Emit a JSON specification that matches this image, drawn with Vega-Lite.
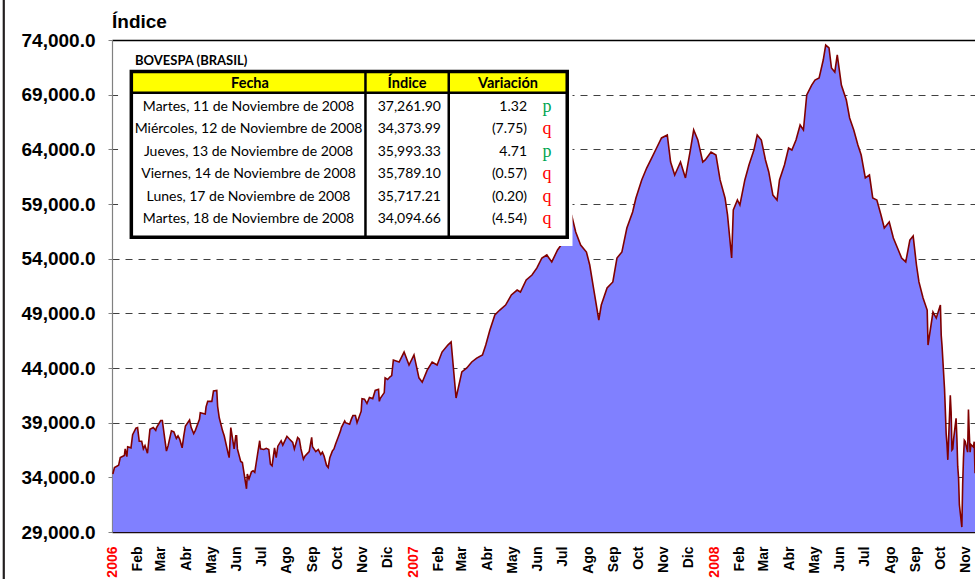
{
  "$schema": "https://vega.github.io/schema/vega-lite/v6.json",
  "width": 863,
  "height": 492,
  "autosize": {"type": "none"},
  "padding": {"left": 112, "top": 40, "right": 0, "bottom": 47},
  "background": "#ffffff",
  "config": {"view": {"stroke": null}},
  "layer": [
    {
      "data": {"values": [
        {"date":"2006-01-02","indice":34300},{"date":"2006-01-04","indice":34900},{"date":"2006-01-09","indice":35100},{"date":"2006-01-11","indice":35800},{"date":"2006-01-16","indice":36000},{"date":"2006-01-17","indice":36600},{"date":"2006-01-19","indice":35900},{"date":"2006-01-20","indice":36800},{"date":"2006-01-24","indice":36700},{"date":"2006-01-26","indice":37900},{"date":"2006-01-30","indice":38500},
        {"date":"2006-02-01","indice":38550},{"date":"2006-02-03","indice":37300},{"date":"2006-02-06","indice":37300},{"date":"2006-02-08","indice":36600},{"date":"2006-02-10","indice":36900},{"date":"2006-02-13","indice":36200},{"date":"2006-02-16","indice":38400},{"date":"2006-02-20","indice":38550},{"date":"2006-02-23","indice":38300},{"date":"2006-02-24","indice":38550},
        {"date":"2006-03-01","indice":39200},{"date":"2006-03-03","indice":39200},{"date":"2006-03-06","indice":37500},{"date":"2006-03-08","indice":36400},{"date":"2006-03-10","indice":36900},{"date":"2006-03-14","indice":38250},{"date":"2006-03-17","indice":38150},{"date":"2006-03-20","indice":37550},{"date":"2006-03-22","indice":37800},{"date":"2006-03-24","indice":37500},{"date":"2006-03-27","indice":36700},{"date":"2006-03-29","indice":37800},{"date":"2006-03-31","indice":38700},
        {"date":"2006-04-05","indice":39250},{"date":"2006-04-07","indice":38550},{"date":"2006-04-10","indice":38000},{"date":"2006-04-12","indice":38300},{"date":"2006-04-17","indice":39300},{"date":"2006-04-18","indice":39900},{"date":"2006-04-24","indice":39800},{"date":"2006-04-25","indice":40450},{"date":"2006-04-27","indice":40950},
        {"date":"2006-05-02","indice":40950},{"date":"2006-05-04","indice":41900},{"date":"2006-05-08","indice":41950},{"date":"2006-05-09","indice":40500},{"date":"2006-05-11","indice":39450},{"date":"2006-05-15","indice":38250},{"date":"2006-05-17","indice":37800},{"date":"2006-05-22","indice":36100},{"date":"2006-05-23","indice":35800},{"date":"2006-05-25","indice":38550},{"date":"2006-05-29","indice":36600},{"date":"2006-05-31","indice":37800},
        {"date":"2006-06-01","indice":37800},{"date":"2006-06-02","indice":36600},{"date":"2006-06-06","indice":35450},{"date":"2006-06-08","indice":35350},{"date":"2006-06-13","indice":32950},{"date":"2006-06-14","indice":34300},{"date":"2006-06-16","indice":33850},{"date":"2006-06-19","indice":34500},{"date":"2006-06-21","indice":34600},{"date":"2006-06-23","indice":34450},{"date":"2006-06-27","indice":36400},{"date":"2006-06-29","indice":37350},{"date":"2006-06-30","indice":36600},
        {"date":"2006-07-04","indice":36550},{"date":"2006-07-07","indice":36650},{"date":"2006-07-10","indice":36550},{"date":"2006-07-12","indice":35200},{"date":"2006-07-14","indice":35050},{"date":"2006-07-17","indice":36700},{"date":"2006-07-19","indice":35800},{"date":"2006-07-21","indice":36850},{"date":"2006-07-25","indice":37350},{"date":"2006-07-27","indice":36950},
        {"date":"2006-08-01","indice":37750},{"date":"2006-08-04","indice":37500},{"date":"2006-08-08","indice":37200},{"date":"2006-08-10","indice":36600},{"date":"2006-08-14","indice":37650},{"date":"2006-08-16","indice":37500},{"date":"2006-08-18","indice":36600},{"date":"2006-08-21","indice":35650},{"date":"2006-08-23","indice":35950},{"date":"2006-08-28","indice":36350},{"date":"2006-08-31","indice":37650},
        {"date":"2006-09-01","indice":36800},{"date":"2006-09-05","indice":36350},{"date":"2006-09-08","indice":36550},{"date":"2006-09-11","indice":36100},{"date":"2006-09-13","indice":36300},{"date":"2006-09-15","indice":35950},{"date":"2006-09-18","indice":35100},{"date":"2006-09-20","indice":34900},{"date":"2006-09-22","indice":35800},{"date":"2006-09-25","indice":36400},{"date":"2006-09-27","indice":36600},{"date":"2006-09-29","indice":37050},
        {"date":"2006-10-03","indice":37850},{"date":"2006-10-05","indice":38250},{"date":"2006-10-06","indice":38550},{"date":"2006-10-10","indice":39150},{"date":"2006-10-11","indice":39000},{"date":"2006-10-16","indice":38850},{"date":"2006-10-18","indice":39300},{"date":"2006-10-20","indice":39650},{"date":"2006-10-23","indice":39650},{"date":"2006-10-25","indice":39000},{"date":"2006-10-30","indice":40050},{"date":"2006-10-31","indice":41200},
        {"date":"2006-11-03","indice":41150},{"date":"2006-11-06","indice":40750},{"date":"2006-11-09","indice":41300},{"date":"2006-11-13","indice":41200},{"date":"2006-11-16","indice":41950},{"date":"2006-11-20","indice":42050},{"date":"2006-11-21","indice":40950},{"date":"2006-11-22","indice":41200},{"date":"2006-11-27","indice":41750},{"date":"2006-11-28","indice":43100},
        {"date":"2006-12-01","indice":42950},{"date":"2006-12-04","indice":43200},{"date":"2006-12-06","indice":43300},{"date":"2006-12-08","indice":44730},{"date":"2006-12-15","indice":44550},{"date":"2006-12-21","indice":45460},{"date":"2006-12-27","indice":44270},
        {"date":"2007-01-02","indice":45200},{"date":"2007-01-08","indice":43100},{"date":"2007-01-12","indice":42700},{"date":"2007-01-18","indice":43800},{"date":"2007-01-24","indice":44550},{"date":"2007-01-30","indice":44270},
        {"date":"2007-02-05","indice":45460},{"date":"2007-02-12","indice":46100},{"date":"2007-02-16","indice":46380},{"date":"2007-02-22","indice":41260},
        {"date":"2007-03-01","indice":43640},{"date":"2007-03-07","indice":44000},{"date":"2007-03-13","indice":44550},{"date":"2007-03-19","indice":44900},{"date":"2007-03-26","indice":45200},{"date":"2007-03-30","indice":46100},
        {"date":"2007-04-04","indice":47480},{"date":"2007-04-10","indice":48850},{"date":"2007-04-16","indice":49300},{"date":"2007-04-23","indice":49760},{"date":"2007-04-30","indice":50680},
        {"date":"2007-05-07","indice":51130},{"date":"2007-05-11","indice":50950},{"date":"2007-05-18","indice":52050},{"date":"2007-05-25","indice":52500},{"date":"2007-05-31","indice":53150},
        {"date":"2007-06-06","indice":54060},{"date":"2007-06-12","indice":54340},{"date":"2007-06-18","indice":53700},{"date":"2007-06-25","indice":54800},
        {"date":"2007-07-02","indice":55530},{"date":"2007-07-09","indice":56800},{"date":"2007-07-12","indice":58000},{"date":"2007-07-17","indice":56440},{"date":"2007-07-23","indice":55250},{"date":"2007-07-30","indice":54610},
        {"date":"2007-08-03","indice":53420},{"date":"2007-08-08","indice":51130},{"date":"2007-08-14","indice":48390},{"date":"2007-08-17","indice":49760},{"date":"2007-08-24","indice":51320},{"date":"2007-08-31","indice":51870},
        {"date":"2007-09-05","indice":54060},{"date":"2007-09-11","indice":54610},{"date":"2007-09-17","indice":56800},{"date":"2007-09-24","indice":58270},{"date":"2007-09-28","indice":59550},
        {"date":"2007-10-05","indice":61200},{"date":"2007-10-11","indice":62290},{"date":"2007-10-17","indice":63200},{"date":"2007-10-23","indice":64120},{"date":"2007-10-29","indice":65040},
        {"date":"2007-11-05","indice":65310},{"date":"2007-11-09","indice":62840},{"date":"2007-11-14","indice":61650},{"date":"2007-11-21","indice":62840},{"date":"2007-11-27","indice":61380},
        {"date":"2007-12-03","indice":63950},{"date":"2007-12-07","indice":65770},{"date":"2007-12-12","indice":64860},{"date":"2007-12-18","indice":62840},{"date":"2007-12-21","indice":63030},{"date":"2007-12-28","indice":63760},
        {"date":"2008-01-03","indice":63480},{"date":"2008-01-08","indice":61200},{"date":"2008-01-14","indice":59550},{"date":"2008-01-17","indice":58000},{"date":"2008-01-22","indice":54060},{"date":"2008-01-24","indice":58450},{"date":"2008-01-29","indice":59370},
        {"date":"2008-02-01","indice":58910},{"date":"2008-02-07","indice":61200},{"date":"2008-02-12","indice":62570},{"date":"2008-02-18","indice":63940},{"date":"2008-02-22","indice":65310},{"date":"2008-02-27","indice":64850},
        {"date":"2008-03-03","indice":63030},{"date":"2008-03-07","indice":61930},{"date":"2008-03-12","indice":59820},{"date":"2008-03-17","indice":59370},{"date":"2008-03-20","indice":61200},{"date":"2008-03-26","indice":62570},{"date":"2008-03-31","indice":64120},
        {"date":"2008-04-04","indice":63940},{"date":"2008-04-09","indice":64850},{"date":"2008-04-14","indice":66230},{"date":"2008-04-18","indice":65770},{"date":"2008-04-22","indice":68970},{"date":"2008-04-28","indice":69880},
        {"date":"2008-05-02","indice":70340},{"date":"2008-05-07","indice":70525},{"date":"2008-05-12","indice":72170},{"date":"2008-05-15","indice":73540},{"date":"2008-05-19","indice":73270},{"date":"2008-05-22","indice":71440},{"date":"2008-05-26","indice":71070},{"date":"2008-05-29","indice":72630},
        {"date":"2008-06-03","indice":69880},{"date":"2008-06-09","indice":68510},{"date":"2008-06-13","indice":66870},{"date":"2008-06-18","indice":65770},{"date":"2008-06-23","indice":64400},{"date":"2008-06-27","indice":63480},
        {"date":"2008-07-02","indice":61380},{"date":"2008-07-07","indice":61650},{"date":"2008-07-11","indice":59550},{"date":"2008-07-16","indice":59370},{"date":"2008-07-21","indice":58000},{"date":"2008-07-25","indice":56800},{"date":"2008-07-31","indice":57350},
        {"date":"2008-08-05","indice":55890},{"date":"2008-08-11","indice":54790},{"date":"2008-08-15","indice":54060},{"date":"2008-08-20","indice":53700},{"date":"2008-08-25","indice":55700},{"date":"2008-08-29","indice":56070},
        {"date":"2008-09-02","indice":53420},{"date":"2008-09-05","indice":51870},{"date":"2008-09-10","indice":50400},{"date":"2008-09-15","indice":49300},{"date":"2008-09-16","indice":46100},{"date":"2008-09-22","indice":49120},{"date":"2008-09-26","indice":48570},
        {"date":"2008-10-01","indice":49760},{"date":"2008-10-02","indice":47000},{"date":"2008-10-03","indice":46000},{"date":"2008-10-06","indice":42100},{"date":"2008-10-07","indice":40100},{"date":"2008-10-08","indice":38000},{"date":"2008-10-09","indice":37000},{"date":"2008-10-10","indice":35600},{"date":"2008-10-13","indice":41500},{"date":"2008-10-14","indice":40000},{"date":"2008-10-15","indice":36500},{"date":"2008-10-16","indice":36600},{"date":"2008-10-17","indice":37500},{"date":"2008-10-20","indice":39400},{"date":"2008-10-21","indice":37600},{"date":"2008-10-22","indice":35000},{"date":"2008-10-23","indice":34000},{"date":"2008-10-24","indice":31500},{"date":"2008-10-27","indice":29450},{"date":"2008-10-28","indice":33400},{"date":"2008-10-29","indice":35800},{"date":"2008-10-30","indice":37400},{"date":"2008-10-31","indice":37300},
        {"date":"2008-11-03","indice":36300},{"date":"2008-11-04","indice":40200},{"date":"2008-11-05","indice":38000},{"date":"2008-11-06","indice":36300},{"date":"2008-11-07","indice":37000},{"date":"2008-11-10","indice":36777},{"date":"2008-11-11","indice":37261.90},{"date":"2008-11-12","indice":34373.99},{"date":"2008-11-13","indice":35993.33},{"date":"2008-11-14","indice":35789.10},{"date":"2008-11-17","indice":35717.21},{"date":"2008-11-18","indice":34094.66}
      ]},
      "mark": {"type": "area", "color": "#8080FF", "opacity": 1, "fillOpacity": 1, "clip": true, "line": {"color": "#800000", "strokeWidth": 1.6, "opacity": 1}},
      "encoding": {
        "x": {
          "field": "date", "type": "temporal",
          "scale": {"type": "utc", "nice": false, "domain": [{"year": 2006, "month": 1, "date": 1, "utc": true}, {"year": 2008, "month": 11, "date": 18, "utc": true}], "range": [0, 868]},
          "axis": {
            "title": null, "grid": false, "ticks": false,
            "tickCount": {"interval": "month", "step": 1},
            "labelAngle": 270, "labelPadding": 14, "labelOverlap": false, "labelFlush": false, "labelBound": false,
            "labelFont": "Liberation Sans", "labelFontWeight": "bold", "labelFontSize": 14,
            "labelExpr": "utcmonth(datum.value) == 0 ? '' + utcyear(datum.value) : ['Ene','Feb','Mar','Abr','May','Jun','Jul','Ago','Sep','Oct','Nov','Dic'][utcmonth(datum.value)]",
            "labelColor": {"condition": {"test": "utcmonth(datum.value) == 0", "value": "#FF0000"}, "value": "#000000"},
            "domainColor": "#1a0a10", "domainWidth": 1.6
          }
        },
        "y": {
          "field": "indice", "type": "quantitative",
          "scale": {"domain": [29000, 74000], "nice": false, "zero": false},
          "axis": {
            "title": null, "values": [29000, 34000, 39000, 44000, 49000, 54000, 59000, 64000, 69000, 74000],
            "format": ",.1f", "labelFont": "Liberation Sans", "labelFontWeight": "bold", "labelFontSize": 19, "labelColor": "#000000",
            "labelPadding": 13, "labelFlush": false, "tickSize": 4, "tickColor": "#808080",
            "domainColor": "#808080", "domainWidth": 1.2,
            "grid": true,
            "gridColor": {"condition": {"test": "datum.value == 74000", "value": "#000000"}, "value": "#404040"},
            "gridDash": {"condition": {"test": "datum.value == 74000", "value": []}, "value": [7, 6]},
            "gridWidth": {"condition": {"test": "datum.value == 74000", "value": 1.6}, "value": 1.2}
          }
        }
      }
    },
    {
      "data": {"values": [
        {"row": 1, "fecha": "Martes, 11 de Noviembre de 2008", "indice": 37261.90, "variacion": 1.32, "dir": "p"},
        {"row": 2, "fecha": "Miércoles, 12 de Noviembre de 2008", "indice": 34373.99, "variacion": -7.75, "dir": "q"},
        {"row": 3, "fecha": "Jueves, 13 de Noviembre de 2008", "indice": 35993.33, "variacion": 4.71, "dir": "p"},
        {"row": 4, "fecha": "Viernes, 14 de Noviembre de 2008", "indice": 35789.10, "variacion": -0.57, "dir": "q"},
        {"row": 5, "fecha": "Lunes, 17 de Noviembre de 2008", "indice": 35717.21, "variacion": -0.20, "dir": "q"},
        {"row": 6, "fecha": "Martes, 18 de Noviembre de 2008", "indice": 34094.66, "variacion": -4.54, "dir": "q"}
      ]},
      "layer": [
        {
          "data": {"values": [{"part": "fondo"}]},
          "mark": {"type": "rect", "fill": "#FFFFFF"},
          "encoding": {
            "x": {"datum": 0.70, "type": "quantitative", "scale": {"domain": [0, 100], "nice": false, "zero": false}, "axis": null},
            "x2": {"datum": 53.36},
            "y": {"datum": -1.85, "type": "quantitative", "scale": {"domain": [-1.94, 19.97], "nice": false, "zero": false, "reverse": true}, "axis": null},
            "y2": {"datum": 7.23}
          }
        },
        {
          "data": {"values": [{"part": "cabecera"}]},
          "mark": {"type": "rect", "fill": "#FFFF00"},
          "encoding": {
            "x": {"datum": 2.24, "type": "quantitative", "axis": null},
            "x2": {"datum": 52.75},
            "y": {"datum": -0.54, "type": "quantitative", "axis": null},
            "y2": {"datum": 0.41}
          }
        },
        {
          "data": {"values": [{"part": "titulo"}]},
          "mark": {"type": "text", "align": "left", "baseline": "alphabetic", "font": "Liberation Sans", "fontWeight": "bold", "fontSize": 19, "color": "#000000"},
          "encoding": {
            "x": {"datum": 0, "type": "quantitative", "axis": null},
            "y": {"datum": -2.47, "type": "quantitative", "axis": null},
            "text": {"value": "Índice"}
          }
        },
        {
          "data": {"values": [{"part": "subtitulo"}]},
          "mark": {"type": "text", "align": "left", "baseline": "middle", "font": "Lato", "fontWeight": "bold", "fontSize": 13, "color": "#000000"},
          "encoding": {
            "x": {"datum": 2.67, "type": "quantitative", "axis": null},
            "y": {"datum": -0.99, "type": "quantitative", "axis": null},
            "text": {"value": "BOVESPA (BRASIL)"}
          }
        },
        {
          "data": {"values": [{"part": "h1"}]},
          "mark": {"type": "text", "align": "center", "baseline": "middle", "font": "Lato", "fontWeight": "bold", "fontSize": 14.5, "color": "#000000"},
          "encoding": {
            "x": {"datum": 15.99, "type": "quantitative", "axis": null},
            "y": {"datum": 0, "type": "quantitative", "axis": null},
            "text": {"value": "Fecha"}
          }
        },
        {
          "data": {"values": [{"part": "h2"}]},
          "mark": {"type": "text", "align": "center", "baseline": "middle", "font": "Lato", "fontWeight": "bold", "fontSize": 14.5, "color": "#000000"},
          "encoding": {
            "x": {"datum": 34.18, "type": "quantitative", "axis": null},
            "y": {"datum": 0, "type": "quantitative", "axis": null},
            "text": {"value": "Índice"}
          }
        },
        {
          "data": {"values": [{"part": "h3"}]},
          "mark": {"type": "text", "align": "center", "baseline": "middle", "font": "Lato", "fontWeight": "bold", "fontSize": 14.5, "color": "#000000"},
          "encoding": {
            "x": {"datum": 45.89, "type": "quantitative", "axis": null},
            "y": {"datum": 0, "type": "quantitative", "axis": null},
            "text": {"value": "Variación"}
          }
        },
        {
          "mark": {"type": "text", "align": "center", "baseline": "middle", "font": "Lato", "fontSize": 14, "color": "#000000", "dy": 1},
          "encoding": {
            "x": {"datum": 15.82, "type": "quantitative", "axis": null},
            "y": {"field": "row", "type": "quantitative", "axis": null},
            "text": {"field": "fecha"}
          }
        },
        {
          "mark": {"type": "text", "align": "right", "baseline": "middle", "font": "Lato", "fontSize": 14, "color": "#000000", "dy": 1},
          "encoding": {
            "x": {"datum": 38.12, "type": "quantitative", "axis": null},
            "y": {"field": "row", "type": "quantitative", "axis": null},
            "text": {"field": "indice", "type": "quantitative", "format": ",.2f"}
          }
        },
        {
          "mark": {"type": "text", "align": "right", "baseline": "middle", "font": "Lato", "fontSize": 14, "color": "#000000", "dy": 1},
          "encoding": {
            "x": {"datum": 48.09, "type": "quantitative", "axis": null},
            "y": {"field": "row", "type": "quantitative", "axis": null},
            "text": {"field": "variacion", "type": "quantitative", "format": "(.2f"}
          }
        },
        {
          "mark": {"type": "text", "align": "center", "baseline": "middle", "font": "Liberation Serif", "fontSize": 18, "dy": 1},
          "encoding": {
            "x": {"datum": 50.41, "type": "quantitative", "axis": null},
            "y": {"field": "row", "type": "quantitative", "axis": null},
            "text": {"field": "dir"},
            "color": {"field": "dir", "type": "nominal", "scale": {"domain": ["p", "q"], "range": ["#00A550", "#FF0000"]}, "legend": null}
          }
        },
        {
          "data": {"values": [{"part": "borde"}]},
          "mark": {"type": "rect", "filled": false, "stroke": "#000000", "strokeWidth": 3.5},
          "encoding": {
            "x": {"datum": 2.24, "type": "quantitative", "axis": null},
            "x2": {"datum": 52.75},
            "y": {"datum": -0.54, "type": "quantitative", "axis": null},
            "y2": {"datum": 6.84}
          }
        },
        {
          "data": {"values": [{"part": "div1"}]},
          "mark": {"type": "rule", "stroke": "#000000", "strokeWidth": 2.5},
          "encoding": {
            "x": {"datum": 29.37, "type": "quantitative", "axis": null},
            "y": {"datum": -0.54, "type": "quantitative", "axis": null},
            "y2": {"datum": 6.84}
          }
        },
        {
          "data": {"values": [{"part": "div2"}]},
          "mark": {"type": "rule", "stroke": "#000000", "strokeWidth": 2.5},
          "encoding": {
            "x": {"datum": 39.02, "type": "quantitative", "axis": null},
            "y": {"datum": -0.54, "type": "quantitative", "axis": null},
            "y2": {"datum": 6.84}
          }
        },
        {
          "data": {"values": [{"part": "linea"}]},
          "mark": {"type": "rule", "stroke": "#000000", "strokeWidth": 2.5},
          "encoding": {
            "x": {"datum": 2.24, "type": "quantitative", "axis": null},
            "x2": {"datum": 52.75},
            "y": {"datum": 0.41, "type": "quantitative", "axis": null}
          }
        },
        {
          "data": {"values": [{"part": "marco"}]},
          "mark": {"type": "rule", "stroke": "#231F20", "strokeWidth": 2.2},
          "encoding": {
            "x": {"datum": -12.54, "type": "quantitative", "axis": null},
            "y": {"datum": -3.72, "type": "quantitative", "axis": null},
            "y2": {"datum": 22.07}
          }
        }
      ]
    }
  ],
  "resolve": {"scale": {"x": "independent", "y": "independent"}, "axis": {"x": "independent", "y": "independent"}}
}
